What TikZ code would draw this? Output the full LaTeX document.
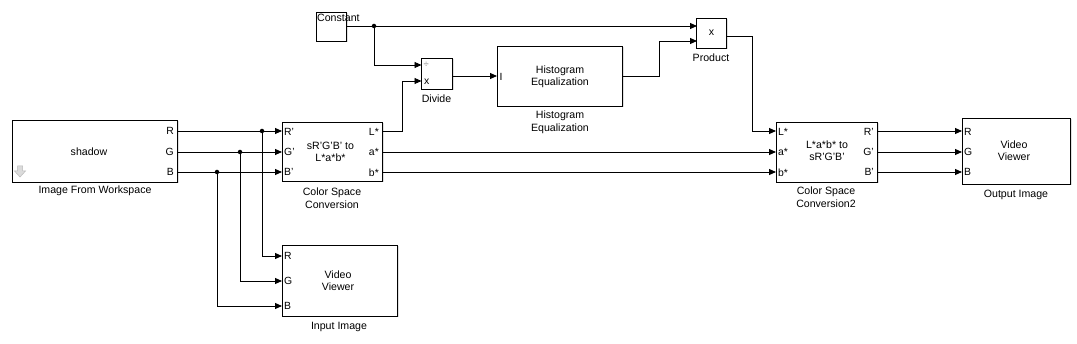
\documentclass[tikz,border=0pt]{standalone}
\usepackage{fontspec}
\setmainfont{Liberation Sans}
\usetikzlibrary{arrows.meta,shadows}
\begin{document}
\begin{tikzpicture}[x=1pt,y=-1pt,
  blk/.style={draw=black,line width=0.9pt,fill=white,inner sep=0pt,
    drop shadow={shadow xshift=1.5pt,shadow yshift=-1.5pt,opacity=0.25,fill=gray}},
  txt/.style={font=\fontsize{10.6}{12}\selectfont,align=center,inner sep=0pt},
  lbl/.style={font=\fontsize{10.6}{13}\selectfont,align=center,inner sep=0pt},
  prt/.style={font=\fontsize{10.4}{12}\selectfont,inner sep=0pt},
  wire/.style={line width=0.9pt,-{Triangle[length=7pt,width=6pt]}},
  line/.style={line width=0.9pt},
  dot/.style={circle,fill=black,inner sep=0pt,minimum size=4.5pt}]
\useasboundingbox (0,0) rectangle (1077,344);

% ---------- blocks ----------
\node[blk,minimum width=30pt,minimum height=29pt] (const) at (331,26.5) {};
\node[txt,anchor=west] (constt) at (317,17.5) {Constant};

\node[blk,minimum width=31pt,minimum height=31pt] (divide) at (436.5,73.5) {};
\node[prt,anchor=west,text=gray] (dvp) at (423.5,65) {\fontsize{9.5}{10}\selectfont ÷};
\node[prt,anchor=west] (dvx) at (424,81.5) {x};
\node[lbl] (dividel) at (436.5,99) {Divide};

\node[blk,minimum width=125pt,minimum height=60pt] (hist) at (559.5,76) {};
\node[txt] (histt) at (560,77) {Histogram\\Equalization};
\node[prt,anchor=west] (histi) at (499.5,76.5) {I};
\node[lbl] (histl) at (560,122) {Histogram\\Equalization};

\node[blk,minimum width=30pt,minimum height=30pt] (prod) at (711.5,33) {};
\node[txt] (prodt) at (711.5,33) {x};
\node[lbl] (prodl) at (711,58) {Product};

\node[blk,minimum width=165pt,minimum height=62pt] (ifw) at (94.5,151) {};
\node[txt] (ifwt) at (89,152) {shadow};
\node[prt,anchor=east] (ifwR) at (174,131) {R};
\node[prt,anchor=east] (ifwG) at (174,152) {G};
\node[prt,anchor=east] (ifwB) at (174,172) {B};
\node[lbl] (ifwl) at (95,190.5) {Image From Workspace};
\draw[draw=gray!55,fill=gray!28,line width=0.5pt]
  (17.5,166) -- (22.5,166) -- (22.5,171) -- (25.5,171) -- (20,177) -- (14.5,171) -- (17.5,171) -- cycle;

\node[blk,minimum width=100pt,minimum height=59pt] (csc) at (332,151.5) {};
\node[txt] (csct) at (330.5,151.5) {sR'G'B' to\\L*a*b*};
\node[prt,anchor=west] (cscR) at (284,131.5) {R'};
\node[prt,anchor=west] (cscG) at (284,152) {G'};
\node[prt,anchor=west] (cscB) at (284,172) {B'};
\node[prt,anchor=east] (cscL) at (379,131.5) {L*};
\node[prt,anchor=east] (csca) at (379,152) {a*};
\node[prt,anchor=east] (cscb) at (379,172.5) {b*};
\node[lbl] (cscl) at (332,198.5) {Color Space\\Conversion};

\node[blk,minimum width=101pt,minimum height=60pt] (csc2) at (826.5,152) {};
\node[txt] (csc2t) at (827,150.5) {L*a*b* to\\sR'G'B'};
\node[prt,anchor=west] (csc2L) at (778,131.5) {L*};
\node[prt,anchor=west] (csc2a) at (778,152) {a*};
\node[prt,anchor=west] (csc2b) at (778,172.5) {b*};
\node[prt,anchor=east] (csc2R) at (874,131.5) {R'};
\node[prt,anchor=east] (csc2G) at (874,152) {G'};
\node[prt,anchor=east] (csc2B) at (874,172) {B'};
\node[lbl] (csc2l) at (826,197.5) {Color Space\\Conversion2};

\node[blk,minimum width=108pt,minimum height=66pt] (outimg) at (1016,151) {};
\node[txt] (outimgt) at (1014,150.5) {Video\\Viewer};
\node[prt,anchor=west] (outR) at (964,131.5) {R};
\node[prt,anchor=west] (outG) at (964,152) {G};
\node[prt,anchor=west] (outB) at (964,172) {B};
\node[lbl] (outimgl) at (1016,195) {Output Image};

\node[blk,minimum width=115pt,minimum height=71pt] (inimg) at (339.5,280.5) {};
\node[txt] (inimgt) at (338,281) {Video\\Viewer};
\node[prt,anchor=west] (inR) at (284,256) {R};
\node[prt,anchor=west] (inG) at (284,281) {G};
\node[prt,anchor=west] (inB) at (284,306) {B};
\node[lbl] (inimgl) at (339,326.5) {Input Image};

% ---------- ports ----------
\coordinate (constO) at (346,26);
\coordinate (prodI1) at (697,26);
\coordinate (prodI2) at (697,41);
\coordinate (prodO) at (726,36);
\coordinate (divI1) at (421.5,65);
\coordinate (divI2) at (421.5,81);
\coordinate (divO) at (452,76);
\coordinate (histI) at (497,76);
\coordinate (histO) at (622,76);
\coordinate (ifwOR) at (177,131);
\coordinate (ifwOG) at (177,152);
\coordinate (ifwOB) at (177,172);
\coordinate (cscIR) at (282,131);
\coordinate (cscIG) at (282,152);
\coordinate (cscIB) at (282,172);
\coordinate (cscOL) at (382,131);
\coordinate (cscOa) at (382,152);
\coordinate (cscOb) at (382,172);
\coordinate (csc2IL) at (776,131);
\coordinate (csc2Ia) at (776,152);
\coordinate (csc2Ib) at (776,172);
\coordinate (csc2OR) at (877,131);
\coordinate (csc2OG) at (877,152);
\coordinate (csc2OB) at (877,172);
\coordinate (outIR) at (962,131);
\coordinate (outIG) at (962,152);
\coordinate (outIB) at (962,172);
\coordinate (inIR) at (282,256);
\coordinate (inIG) at (282,281);
\coordinate (inIB) at (282,306);

% junctions
\node[dot] (j1) at (374,26) {};
\node[dot] (jR) at (262,131) {};
\node[dot] (jG) at (240,152) {};
\node[dot] (jB) at (217,172) {};

% ---------- wires ----------
\draw[line] (constO) -- (j1.center);
\draw[wire] (j1.center) -- (prodI1);
\draw[wire] (j1.center) |- (divI1);
\draw[wire] (cscOL) -- (402,131) |- (divI2);
\draw[wire] (divO) -- (histI);
\draw[wire] (histO) -- (659,76) |- (prodI2);
\draw[wire] (prodO) -- (752,36) |- (csc2IL);
\draw[wire] (cscOa) -- (csc2Ia);
\draw[wire] (cscOb) -- (csc2Ib);
\draw[wire] (csc2OR) -- (outIR);
\draw[wire] (csc2OG) -- (outIG);
\draw[wire] (csc2OB) -- (outIB);

\draw[line] (ifwOR) -- (jR.center);
\draw[wire] (jR.center) -- (cscIR);
\draw[wire] (jR.center) |- (inIR);
\draw[line] (ifwOG) -- (jG.center);
\draw[wire] (jG.center) -- (cscIG);
\draw[wire] (jG.center) |- (inIG);
\draw[line] (ifwOB) -- (jB.center);
\draw[wire] (jB.center) -- (cscIB);
\draw[wire] (jB.center) |- (inIB);
\end{tikzpicture}
\end{document}
